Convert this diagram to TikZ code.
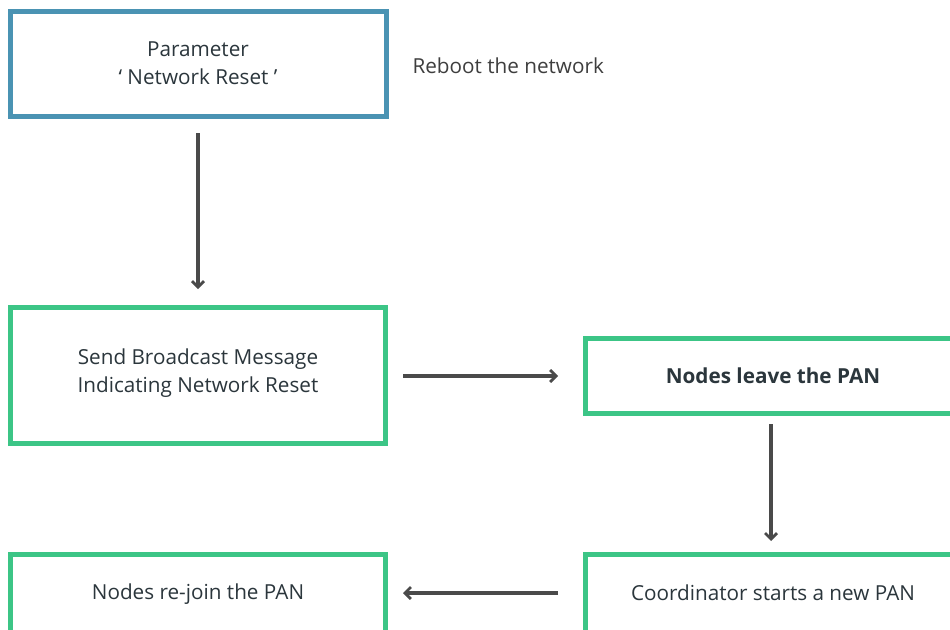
\documentclass[tikz,border=0pt]{standalone}
\usepackage{fontspec}
\setmainfont{Open Sans}
\usetikzlibrary{arrows.meta}
\definecolor{bluebox}{HTML}{4A93B3}
\definecolor{greenbox}{HTML}{3CC586}
\definecolor{txt}{HTML}{2B363C}
\definecolor{arr}{HTML}{4A4A4A}
\definecolor{rtxt}{HTML}{3E3E3E}
\tikzset{
  box/.style={draw=#1, line width=5pt, fill=white},
  lbl/.style={text=txt, font=\fontsize{20.7}{28.5}\selectfont, align=center},
  conn/.style={draw=arr, line width=3.2pt, -{Straight Barb[length=6pt,width=12pt,line width=2.8pt]}}
}
\begin{document}
\begin{tikzpicture}[x=1pt,y=-1pt]
\useasboundingbox (0,0) rectangle (950,629);
\clip (0,0) rectangle (950,629);
% boxes
\draw[box=bluebox] (10.5,11.5) rectangle (386.5,116.5);
\draw[box=greenbox] (10.5,307.5) rectangle (385.5,443);
\draw[box=greenbox] (585.5,338.5) rectangle (960,413.5);
\draw[box=greenbox] (585.5,554.5) rectangle (960,640);
\draw[box=greenbox] (10.5,554.5) rectangle (385.5,640);
% text nodes
\node[lbl] (param) at (198,63) {Parameter\\‘ Network Reset ’};
\node[lbl, text=rtxt, anchor=west] (reboot) at (409,66) {Reboot the network};
\node[lbl] (send) at (198,373) {Send Broadcast Message\\Indicating Network Reset};
\node[lbl, font=\fontsize{20.7}{28.5}\selectfont\bfseries] (leave) at (773,376) {Nodes leave the PAN};
\node[lbl] (coord) at (773,593) {Coordinator starts a new PAN};
\node[lbl] (rejoin) at (198,594) {Nodes re-join the PAN};
% connector anchor points
\coordinate (a1) at (198,133);
\coordinate (a2) at (198,289);
\coordinate (b1) at (403,376);
\coordinate (b2) at (558,376);
\coordinate (c1) at (771,424);
\coordinate (c2) at (771,541);
\coordinate (d1) at (558,593);
\coordinate (d2) at (403,593);
\draw[conn] (a1) -- (a2);
\draw[conn] (b1) -- (b2);
\draw[conn] (c1) -- (c2);
\draw[conn] (d1) -- (d2);
\end{tikzpicture}
\end{document}
